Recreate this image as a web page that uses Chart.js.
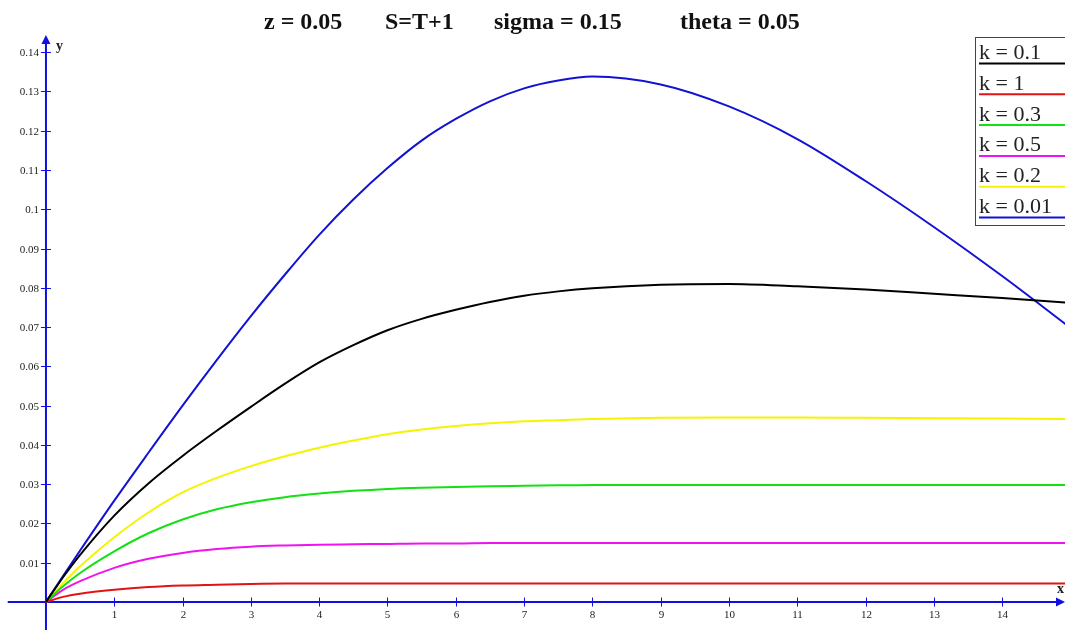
<!DOCTYPE html>
<html>
<head>
<meta charset="utf-8">
<script src="https://cdn.jsdelivr.net/npm/chart.js@4/dist/chart.umd.min.js"></script>
<style>
html, body { margin: 0; padding: 0; background: #fff; }
#wrap { width: 1065px; height: 630px; position: relative; }
</style>
</head>
<body>
<div id="wrap"><canvas id="graph"></canvas></div>
<script>
// values
const xs    = [0, 0.25, 0.5, 1, 1.5, 2, 2.5, 3, 3.5, 4, 4.5, 5, 5.5, 6, 6.5, 7, 7.5, 8, 9, 10, 11, 12, 13, 14, 15];
const k0_1  = [0, 0.0063, 0.0120, 0.0220, 0.0302, 0.0372, 0.0436, 0.0497, 0.0556, 0.0610, 0.0654, 0.0692, 0.0721, 0.0744, 0.0764, 0.0780, 0.0791, 0.0799, 0.0808, 0.0810, 0.0804, 0.0796, 0.0785, 0.0774, 0.0762];
const k1    = [0, 0.0013, 0.0021, 0.0031, 0.0038, 0.0042, 0.0044, 0.0046, 0.0047, 0.0047, 0.0047, 0.0047, 0.0047, 0.0047, 0.0047, 0.0047, 0.0047, 0.0047, 0.0047, 0.0047, 0.0047, 0.0047, 0.0047, 0.0047, 0.0047];
const k0_3  = [0, 0.0040, 0.0074, 0.0129, 0.0175, 0.0210, 0.0236, 0.0254, 0.0267, 0.0276, 0.0283, 0.0288, 0.0291, 0.0293, 0.0295, 0.0296, 0.0297, 0.0298, 0.0298, 0.0298, 0.0298, 0.0298, 0.0298, 0.0298, 0.0298];
const k0_5  = [0, 0.0031, 0.0053, 0.0087, 0.0110, 0.0125, 0.0135, 0.0141, 0.0144, 0.0146, 0.0147, 0.0148, 0.0149, 0.0149, 0.0150, 0.0150, 0.0150, 0.0150, 0.0150, 0.0150, 0.0150, 0.0150, 0.0150, 0.0150, 0.0150];
const k0_2  = [0, 0.0048, 0.0091, 0.0165, 0.0228, 0.0279, 0.0316, 0.0346, 0.0371, 0.0393, 0.0411, 0.0427, 0.0439, 0.0448, 0.0455, 0.0460, 0.0463, 0.0466, 0.0469, 0.0470, 0.0470, 0.0469, 0.0468, 0.0467, 0.0466];
const k0_01 = [0, 0.0066, 0.0131, 0.0258, 0.0380, 0.0500, 0.0616, 0.0728, 0.0834, 0.0935, 0.1025, 0.1105, 0.1175, 0.1230, 0.1275, 0.1308, 0.1328, 0.1338, 0.1318, 0.1262, 0.1179, 0.1072, 0.0955, 0.0830, 0.0698];

const seriesNames = ['k = 0.1', 'k = 1', 'k = 0.3', 'k = 0.5', 'k = 0.2', 'k = 0.01'];
const seriesValues = [k0_1, k1, k0_3, k0_5, k0_2, k0_01];
const seriesColors = ['#000000', '#e01414', '#14e014', '#ee14ee', '#f4f400', '#1212d2'];

const xTicks = [1, 2, 3, 4, 5, 6, 7, 8, 9, 10, 11, 12, 13, 14];
const yTicks = [0.01, 0.02, 0.03, 0.04, 0.05, 0.06, 0.07, 0.08, 0.09, 0.1, 0.11, 0.12, 0.13, 0.14];
const yTickLabels = ['0.01', '0.02', '0.03', '0.04', '0.05', '0.06', '0.07', '0.08', '0.09', '0.1', '0.11', '0.12', '0.13', '0.14'];

const titleParts = ['z = 0.05', 'S=T+1', 'sigma = 0.15', 'theta = 0.05'];
const titleX = [264, 385, 494, 680];

const axisColor = '#1010e0';
const serif = '"Liberation Serif", "DejaVu Serif", serif';

const datasets = seriesNames.map((name, i) => ({
    label: name,
    data: xs.map((x, j) => ({ x: x, y: seriesValues[i][j] })),
    borderColor: seriesColors[i],
    backgroundColor: seriesColors[i],
    borderWidth: 2,
    pointRadius: 0,
    fill: false,
    cubicInterpolationMode: 'monotone'
}));

const axesPlugin = {
    id: 'axes',
    beforeDatasetsDraw(chart) {
        const { ctx, scales: { x, y } } = chart;
        const x0 = x.getPixelForValue(0);
        const y0 = y.getPixelForValue(0);
        const left = x.getPixelForValue(-0.56);
        const right = chart.chartArea.right;
        const top = chart.chartArea.top + 35;
        const bottom = chart.chartArea.bottom;
        ctx.save();
        ctx.strokeStyle = axisColor;
        ctx.fillStyle = axisColor;
        ctx.lineWidth = 2;
        ctx.beginPath();
        ctx.moveTo(left, y0); ctx.lineTo(right - 6, y0);
        ctx.moveTo(x0, bottom); ctx.lineTo(x0, top + 7);
        ctx.stroke();
        // arrow heads
        ctx.beginPath();
        ctx.moveTo(right, y0); ctx.lineTo(right - 9, y0 - 4.5); ctx.lineTo(right - 9, y0 + 4.5); ctx.closePath();
        ctx.fill();
        ctx.beginPath();
        ctx.moveTo(x0, top); ctx.lineTo(x0 - 4.5, top + 9); ctx.lineTo(x0 + 4.5, top + 9); ctx.closePath();
        ctx.fill();

        ctx.lineWidth = 1;
        ctx.font = '11px ' + serif;
        ctx.fillStyle = '#222';
        ctx.textAlign = 'right';
        ctx.textBaseline = 'middle';
        yTicks.forEach((v, i) => {
            const py = Math.round(y.getPixelForValue(v)) + 0.5;
            ctx.beginPath(); ctx.moveTo(x0 - 5, py); ctx.lineTo(x0 + 5, py); ctx.stroke();
            ctx.fillText(yTickLabels[i], x0 - 7, py + 1);
        });
        ctx.textAlign = 'center';
        ctx.textBaseline = 'top';
        xTicks.forEach(v => {
            const px = Math.round(x.getPixelForValue(v)) + 0.5;
            ctx.beginPath(); ctx.moveTo(px, y0 - 4.5); ctx.lineTo(px, y0 + 4.5); ctx.stroke();
            ctx.fillText(String(v), px, y0 + 8);
        });

        ctx.font = 'bold 14px ' + serif;
        ctx.fillStyle = '#222';
        ctx.textAlign = 'left';
        ctx.textBaseline = 'alphabetic';
        ctx.fillText('y', x0 + 10, 50);
        ctx.fillText('x', right - 8, 593);
        ctx.restore();
    },
    afterDraw(chart) {
        const { ctx } = chart;
        ctx.save();
        // title
        ctx.font = 'bold 24px ' + serif;
        ctx.fillStyle = '#111';
        ctx.textBaseline = 'alphabetic';
        ctx.textAlign = 'left';
        titleParts.forEach((t, i) => ctx.fillText(t, titleX[i], 29));

        // legend box
        const bx = 975.5, by = 37.5, bw = 100, bh = 188;
        ctx.fillStyle = '#fff';
        ctx.fillRect(bx, by, bw, bh);
        ctx.strokeStyle = '#444';
        ctx.lineWidth = 1;
        ctx.strokeRect(bx, by, bw, bh);
        ctx.font = '22px ' + serif;
        chart.data.datasets.forEach((ds, i) => {
            const ly = 63.5 + i * 30.8;
            ctx.strokeStyle = ds.borderColor;
            ctx.lineWidth = 2;
            ctx.beginPath(); ctx.moveTo(979, ly); ctx.lineTo(1065, ly); ctx.stroke();
            ctx.fillStyle = '#222';
            ctx.fillText(ds.label, 979, ly - 4.5);
        });
        ctx.restore();
    }
};

const ctx = document.getElementById('graph').getContext('2d');
const myChart = new Chart(ctx, {
    type: 'line',
    data: { datasets },
    options: {
        responsive: true,
        maintainAspectRatio: false,
        animation: false,
        layout: { padding: 0 },
        plugins: {
            legend: { display: false },
            title: { display: false },
            tooltip: { enabled: false }
        },
        scales: {
            x: { type: 'linear', min: -0.673, max: 14.92, display: false },
            y: { type: 'linear', min: -0.00713, max: 0.1533, display: false }
        }
    },
    plugins: [axesPlugin]
});
</script>
</body>
</html>
